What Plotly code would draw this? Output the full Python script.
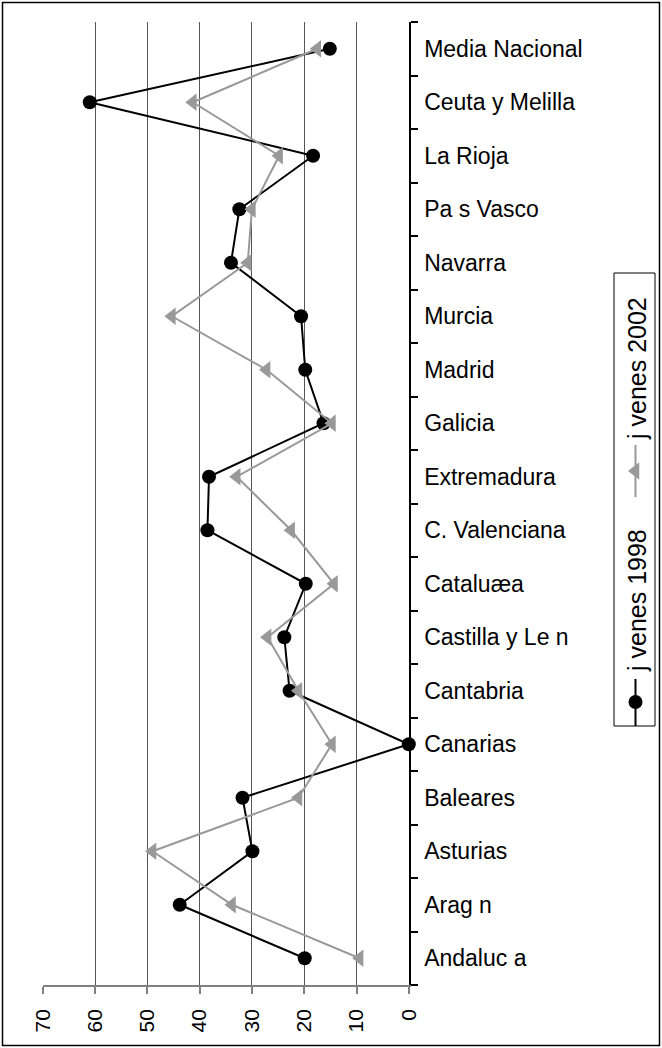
import plotly.graph_objects as go

# ---- data (bottom to top, as in the source sheet) ----
categories = ["Andaluc a", "Arag n", "Asturias", "Baleares", "Canarias", "Cantabria",
              "Castilla y Le n", "Cataluæa", "C. Valenciana", "Extremadura", "Galicia",
              "Madrid", "Murcia", "Navarra", "Pa s Vasco", "La Rioja",
              "Ceuta y Melilla", "Media Nacional"]
jovenes_1998 = [19.9, 43.8, 29.9, 31.8, 0.0, 22.8, 23.8, 19.7, 38.5, 38.2, 16.3,
                19.8, 20.6, 34.0, 32.4, 18.3, 61.0, 15.1]
jovenes_2002 = [9.4, 33.8, 49.0, 21.1, 14.7, 21.1, 27.0, 14.3, 22.5, 32.9, 14.7,
                27.2, 45.3, 30.8, 30.0, 24.8, 41.3, 17.5]
series_names = ["j venes 1998", "j venes 2002"]
x_ticks = [0, 10, 20, 30, 40, 50, 60, 70]

W, H = 662, 1048
FONT = "Liberation Sans, Arial, sans-serif"
BLACK = "#000000"
GRAY = "#999999"

# plot area in pixels
PX0, PX1 = 42.7, 408.8
PY0, PY1 = 22, 985

fig = go.Figure()

fig.add_trace(go.Scatter(
    x=jovenes_1998, y=categories, mode="lines+markers", name=series_names[0],
    line=dict(color=BLACK, width=2),
    marker=dict(symbol="circle", size=14, color=BLACK),
    xaxis="x", yaxis="y", showlegend=False, cliponaxis=False))
fig.add_trace(go.Scatter(
    x=jovenes_2002, y=categories, mode="lines+markers", name=series_names[1],
    line=dict(color=GRAY, width=2),
    marker=dict(symbol="triangle-left", size=15, color=GRAY),
    xaxis="x", yaxis="y", showlegend=False, cliponaxis=False))

# ---- legend replica (rotated), drawn in a pixel-coordinate overlay axis ----
LX = 635.5
fig.add_trace(go.Scatter(x=[LX, LX], y=[679, 726], mode="lines",
                         line=dict(color=BLACK, width=2), xaxis="x2", yaxis="y2",
                         showlegend=False, hoverinfo="skip"))
fig.add_trace(go.Scatter(x=[LX], y=[702], mode="markers",
                         marker=dict(symbol="circle", size=14, color=BLACK),
                         xaxis="x2", yaxis="y2", showlegend=False, hoverinfo="skip"))
fig.add_trace(go.Scatter(x=[LX, LX], y=[445, 497], mode="lines",
                         line=dict(color=GRAY, width=2), xaxis="x2", yaxis="y2",
                         showlegend=False, hoverinfo="skip"))
fig.add_trace(go.Scatter(x=[LX], y=[471], mode="markers",
                         marker=dict(symbol="triangle-left", size=15, color=GRAY),
                         xaxis="x2", yaxis="y2", showlegend=False, hoverinfo="skip"))

annotations = [
    dict(text=series_names[0], x=LX + 1, y=674, xref="x2", yref="y2",
         xanchor="center", yanchor="bottom", textangle=-90, showarrow=False,
         font=dict(family=FONT, size=25, color=BLACK)),
    dict(text=series_names[1], x=LX + 1, y=442, xref="x2", yref="y2",
         xanchor="center", yanchor="bottom", textangle=-90, showarrow=False,
         font=dict(family=FONT, size=25, color=BLACK)),
]

shapes = [
    # legend box
    dict(type="rect", xref="x2", yref="y2", x0=614, x1=655, y0=273, y1=726,
         line=dict(color=BLACK, width=1), fillcolor="rgba(0,0,0,0)"),
    # outer chart border
    dict(type="rect", xref="x2", yref="y2", x0=2.5, x1=659.5, y0=2.5, y1=1045.5,
         line=dict(color=BLACK, width=1.5), fillcolor="rgba(0,0,0,0)"),
]

fig.update_layout(
    width=W, height=H,
    margin=dict(l=0, r=0, t=0, b=0, pad=0, autoexpand=False),
    paper_bgcolor="white", plot_bgcolor="rgba(0,0,0,0)",
    font=dict(family=FONT, color=BLACK),
    showlegend=False,
    xaxis=dict(
        domain=[PX0 / W, PX1 / W], anchor="y", automargin=False,
        range=[70, 0], tickvals=x_ticks, ticktext=[str(v) for v in x_ticks],
        tickangle=-90, tickfont=dict(family=FONT, size=21, color=BLACK),
        ticks="outside", ticklen=7, tickcolor="#808080", tickwidth=1.5,
        ticklabelstandoff=7,
        showline=True, linecolor="#808080", linewidth=1.5,
        showgrid=True, gridcolor="#555555", gridwidth=1,
        zeroline=False, fixedrange=True,
    ),
    yaxis=dict(
        domain=[(H - PY1) / H, (H - PY0) / H], anchor="x", side="right", automargin=False,
        type="category", categoryorder="array", categoryarray=categories,
        range=[-0.5, len(categories) - 0.5],
        tickfont=dict(family=FONT, size=23, color=BLACK),
        ticks="outside", tickson="boundaries", ticklen=7, tickcolor=BLACK, tickwidth=1.5,
        ticklabelstandoff=9,
        showline=True, linecolor=BLACK, linewidth=1.5,
        showgrid=False, zeroline=False, fixedrange=True,
    ),
    xaxis2=dict(domain=[0, 1], anchor="y2", range=[0, W], visible=False,
                fixedrange=True, automargin=False),
    yaxis2=dict(domain=[0, 1], anchor="x2", range=[H, 0], visible=False,
                fixedrange=True, automargin=False),
    annotations=annotations,
    shapes=shapes,
)

fig.write_html(
    "out.html",
    config={"displayModeBar": False},
    post_script="document.body.style.margin='0';document.body.style.padding='0';",
)
